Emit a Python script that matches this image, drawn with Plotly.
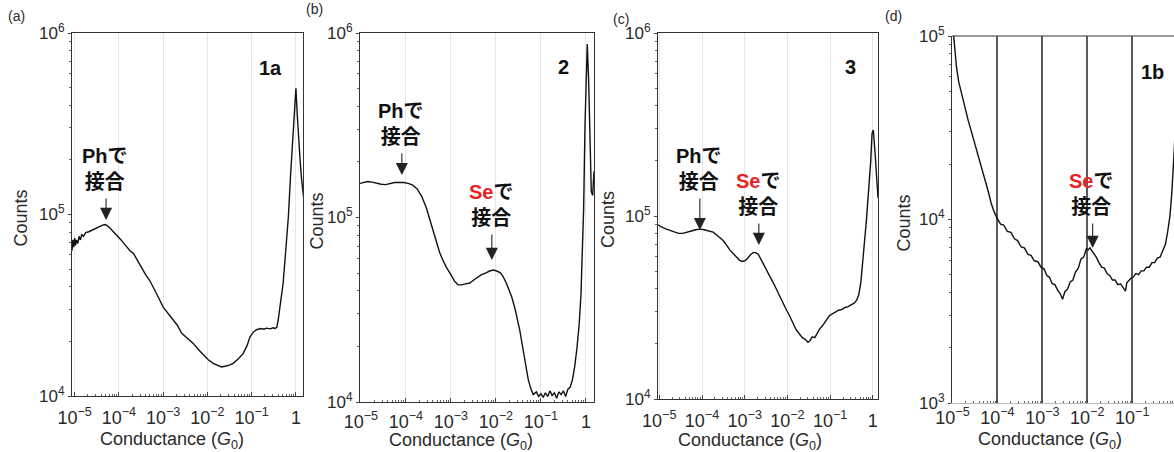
import numpy as np
import plotly.graph_objects as go

# ---------------- data (log10 conductance / log10 counts) ----------------
# Panel (a) molecule 1a
log_g_a = [-5.06, -5.04, -5.02, -5.00, -4.98, -4.96, -4.93, -4.90, -4.87, -4.84, -4.80, -4.75,
           -4.68, -4.60, -4.52, -4.45, -4.38, -4.32, -4.27, -4.22, -4.16, -4.10, -4.05, -3.95,
           -3.85, -3.75, -3.67, -3.58, -3.48, -3.40, -3.30, -3.20, -3.10, -3.00, -2.90, -2.77,
           -2.68, -2.58, -2.46, -2.32, -2.20, -2.09, -1.98, -1.87, -1.78, -1.68, -1.58, -1.50,
           -1.42, -1.30, -1.19, -1.10, -1.04, -0.97, -0.89, -0.80, -0.72, -0.66, -0.58, -0.52,
           -0.47, -0.43, -0.40, -0.35, -0.29, -0.23, -0.17, -0.12, -0.07, -0.03, 0.00, 0.03,
           0.06, 0.10, 0.13, 0.17]
log_counts_a = [4.80, 4.86, 4.82, 4.87, 4.83, 4.86, 4.84, 4.88, 4.86, 4.89, 4.88, 4.90,
                4.905, 4.915, 4.925, 4.935, 4.94, 4.945, 4.94, 4.93, 4.915, 4.895, 4.885, 4.86,
                4.83, 4.80, 4.785, 4.745, 4.70, 4.67, 4.635, 4.59, 4.54, 4.49, 4.46, 4.42,
                4.39, 4.345, 4.32, 4.29, 4.255, 4.225, 4.20, 4.18, 4.17, 4.16, 4.165, 4.17,
                4.18, 4.205, 4.235, 4.28, 4.325, 4.35, 4.365, 4.372, 4.368, 4.374, 4.37, 4.376,
                4.372, 4.38, 4.42, 4.50, 4.62, 4.80, 4.99, 5.22, 5.45, 5.60, 5.695, 5.55,
                5.42, 5.28, 5.19, 5.10]

# Panel (b) molecule 2
log_g_b = [-5.02, -4.95, -4.85, -4.75, -4.65, -4.55, -4.45, -4.35, -4.25, -4.15, -4.05, -3.95,
           -3.85, -3.75, -3.65, -3.55, -3.47, -3.40, -3.32, -3.25, -3.18, -3.10, -3.00, -2.92,
           -2.84, -2.76, -2.68, -2.58, -2.50, -2.40, -2.32, -2.22, -2.14, -2.06, -1.98, -1.90,
           -1.84, -1.76, -1.70, -1.65, -1.58, -1.52, -1.47, -1.40, -1.34, -1.28, -1.22, -1.17,
           -1.10, -1.05, -1.00, -0.95, -0.90, -0.85, -0.80, -0.75, -0.70, -0.65, -0.60, -0.55,
           -0.50, -0.45, -0.40, -0.35, -0.30, -0.25, -0.20, -0.15, -0.11, -0.08, -0.05, -0.02,
           0.01, 0.03, 0.06, 0.09, 0.12, 0.15, 0.18]
log_counts_b = [5.185, 5.19, 5.195, 5.192, 5.185, 5.18, 5.178, 5.185, 5.19, 5.19, 5.19, 5.185,
                5.175, 5.155, 5.115, 5.055, 4.99, 4.93, 4.86, 4.81, 4.77, 4.73, 4.69, 4.655,
                4.635, 4.635, 4.64, 4.645, 4.66, 4.675, 4.69, 4.70, 4.71, 4.715, 4.71, 4.70,
                4.68, 4.64, 4.60, 4.57, 4.51, 4.45, 4.39, 4.29, 4.20, 4.12, 4.07, 4.04,
                4.055, 4.03, 4.045, 4.025, 4.05, 4.03, 4.06, 4.035, 4.05, 4.02, 4.055, 4.04,
                4.06, 4.03, 4.07, 4.08, 4.12, 4.19, 4.29, 4.42, 4.58, 4.78, 5.05, 5.50,
                5.80, 5.94, 5.75, 5.40, 5.14, 5.12, 5.25]

# Panel (c) molecule 3
log_g_c = [-5.03, -4.95, -4.85, -4.75, -4.65, -4.55, -4.45, -4.35, -4.25, -4.15, -4.05, -3.95,
           -3.85, -3.74, -3.65, -3.57, -3.50, -3.42, -3.35, -3.27, -3.20, -3.12, -3.05, -2.98,
           -2.92, -2.86, -2.80, -2.74, -2.68, -2.62, -2.55, -2.48, -2.40, -2.32, -2.25, -2.18,
           -2.10, -2.02, -1.95, -1.88, -1.80, -1.72, -1.65, -1.58, -1.52, -1.47, -1.42, -1.36,
           -1.30, -1.24, -1.18, -1.10, -1.02, -0.95, -0.88, -0.80, -0.72, -0.65, -0.58, -0.50,
           -0.43, -0.38, -0.33, -0.28, -0.24, -0.20, -0.15, -0.10, -0.05, -0.02, 0.01, 0.05,
           0.09, 0.12]
log_counts_c = [4.952, 4.94, 4.93, 4.922, 4.912, 4.905, 4.905, 4.91, 4.918, 4.925, 4.928, 4.925,
                4.92, 4.912, 4.895, 4.88, 4.865, 4.84, 4.815, 4.795, 4.775, 4.758, 4.752, 4.758,
                4.772, 4.79, 4.80, 4.80, 4.79, 4.765, 4.735, 4.70, 4.665, 4.63, 4.595, 4.565,
                4.525, 4.485, 4.455, 4.42, 4.38, 4.355, 4.335, 4.325, 4.31, 4.32, 4.34, 4.335,
                4.36, 4.385, 4.40, 4.425, 4.455, 4.465, 4.475, 4.485, 4.49, 4.50, 4.505, 4.515,
                4.525, 4.54, 4.57, 4.64, 4.73, 4.85, 4.98, 5.12, 5.30, 5.45, 5.47, 5.35,
                5.22, 5.10]

# Panel (d) molecule 1b
log_g_d = [-4.98, -4.94, -4.91, -4.86, -4.80, -4.72, -4.65, -4.58, -4.50, -4.42, -4.36, -4.28,
           -4.20, -4.14, -4.07, -4.00, -3.93, -3.86, -3.78, -3.70, -3.62, -3.55, -3.47, -3.40,
           -3.32, -3.25, -3.18, -3.10, -3.03, -2.96, -2.90, -2.84, -2.78, -2.72, -2.66, -2.60,
           -2.55, -2.50, -2.44, -2.38, -2.32, -2.26, -2.20, -2.14, -2.08, -2.02, -1.98, -1.94,
           -1.90, -1.86, -1.80, -1.74, -1.68, -1.62, -1.56, -1.50, -1.44, -1.38, -1.32, -1.26,
           -1.20, -1.15, -1.12, -1.08, -1.03, -0.98, -0.92, -0.86, -0.80, -0.74, -0.68, -0.62,
           -0.56, -0.50, -0.44, -0.38, -0.32, -0.26, -0.21, -0.16, -0.12, -0.09, -0.06, -0.03]
log_counts_d = [5.02, 4.90, 4.83, 4.75, 4.69, 4.60, 4.54, 4.48, 4.41, 4.35, 4.29, 4.22,
                4.15, 4.09, 4.04, 4.005, 3.975, 3.97, 3.935, 3.93, 3.895, 3.885, 3.85, 3.845,
                3.81, 3.805, 3.775, 3.77, 3.74, 3.73, 3.695, 3.685, 3.65, 3.645, 3.615, 3.595,
                3.565, 3.605, 3.62, 3.66, 3.67, 3.715, 3.735, 3.785, 3.795, 3.84, 3.835, 3.845,
                3.83, 3.82, 3.795, 3.765, 3.74, 3.735, 3.705, 3.695, 3.67, 3.67, 3.645, 3.65,
                3.625, 3.61, 3.655, 3.665, 3.68, 3.685, 3.705, 3.70, 3.72, 3.72, 3.74, 3.74,
                3.765, 3.765, 3.79, 3.795, 3.835, 3.865, 3.935, 4.02, 4.14, 4.25, 4.40, 4.60]

# tick labels
x_tick_exponents = [-5, -4, -3, -2, -1, 0]
x_tick_labels = ["10<sup>−5</sup>", "10<sup>−4</sup>", "10<sup>−3</sup>", "10<sup>−2</sup>",
                 "10<sup>−1</sup>", "1"]
y_tick_exponents_abc = [4, 5, 6]
y_tick_labels_abc = ["10<sup>4</sup>", "10<sup>5</sup>", "10<sup>6</sup>"]
y_tick_exponents_d = [3, 4, 5]
y_tick_labels_d = ["10<sup>3</sup>", "10<sup>4</sup>", "10<sup>5</sup>"]

panel_letters = ["(a)", "(b)", "(c)", "(d)"]
panel_names = ["1a", "2", "3", "1b"]

# binding-site labels: (panel index, label kind, arrow tip log G, arrow tip log counts)
site_panel = [0, 1, 1, 2, 2, 3]
site_kind = ["Ph", "Ph", "Se", "Ph", "Se", "Se"]
site_log_g = [-4.29, -4.09, -2.09, -4.05, -2.67, -1.88]
site_log_counts = [4.97, 5.23, 4.77, 4.923, 4.842, 3.845]

# ---------------- layout geometry ----------------
W, H = 1174, 452
# pixel boxes: left, right, top, bottom
boxes = [(72, 303, 33, 396), (360, 594, 33, 402), (658, 878, 33, 399), (952, 1174, 36, 403)]
x_ranges = [[-5.06, 0.16], [-5.02, 0.18], [-5.03, 0.12], [-5.01, -0.07]]
y_ranges = [[4, 6], [4, 6], [4, 6], [3, 5]]
x_label_standoff = [5, 3, 5, -2]

TXT = "#2a2a2a"
FONT = "Liberation Sans, Arial, Helvetica, sans-serif"
JFONT = "Liberation Sans, Noto Sans CJK JP, sans-serif"

xs = [log_g_a, log_g_b, log_g_c, log_g_d]
ys = [log_counts_a, log_counts_b, log_counts_c, log_counts_d]

fig = go.Figure()
annotations = []
shapes = []


def px_to_paper_x(p):
    return p / W


def px_to_paper_y(p):
    return 1 - p / H


for i in range(4):
    sfx = "" if i == 0 else str(i + 1)
    fig.add_trace(go.Scatter(
        x=10 ** np.array(xs[i]), y=10 ** np.array(ys[i]), mode="lines",
        line=dict(color="#111111", width=1.4), showlegend=False, hoverinfo="skip",
        xaxis="x" + sfx, yaxis="y" + sfx))

    l, r, t, b = boxes[i]
    is_d = i == 3
    minor_x = [m * 10 ** e for e in range(-6, 1) for m in range(2, 10)]
    ylo, yhi = y_ranges[i]
    minor_y = [m * 10 ** e for e in range(ylo, yhi) for m in range(2, 10)]
    xa = dict(
        type="log", range=x_ranges[i], domain=[px_to_paper_x(l), px_to_paper_x(r)],
        anchor="y" + sfx, tickmode="array", automargin=False,
        tickvals=[10 ** e for e in x_tick_exponents], ticktext=x_tick_labels,
        ticks="inside", ticklen=4, tickcolor="#444", tickwidth=1,
        ticklabelstandoff=x_label_standoff[i],
        minor=dict(tickmode="array", tickvals=minor_x, ticks="inside", ticklen=2,
                   tickcolor="#666", showgrid=False),
        showgrid=True,
        gridcolor="#5a5a5a" if is_d else "#e6e6e6",
        gridwidth=2 if is_d else 1,
        showline=True, linecolor="#bbbbbb" if is_d else "#333333", linewidth=1.2,
        mirror=not is_d, zeroline=False,
        tickfont=dict(family=FONT, size=18, color=TXT),
        fixedrange=True,
    )
    ya = dict(
        type="log", range=y_ranges[i], domain=[px_to_paper_y(b), px_to_paper_y(t)],
        anchor="x" + sfx, tickmode="array", automargin=False,
        tickvals=[10 ** e for e in (y_tick_exponents_d if is_d else y_tick_exponents_abc)],
        ticktext=y_tick_labels_d if is_d else y_tick_labels_abc,
        ticks="outside", ticklen=3, tickcolor="#444",
        minor=dict(tickmode="array", tickvals=minor_y, ticks="outside", ticklen=2,
                   tickcolor="#666", showgrid=False),
        showgrid=False, showline=True, linecolor="#333333", linewidth=1.2,
        mirror=not is_d, zeroline=False,
        tickfont=dict(family=FONT, size=17, color=TXT),
        fixedrange=True,
    )
    fig.layout["xaxis" + sfx] = xa
    fig.layout["yaxis" + sfx] = ya

    if is_d:
        shapes.append(dict(type="line", xref="x4 domain", yref="y4 domain",
                           x0=0, x1=1, y0=1, y1=1, line=dict(color="#333333", width=1.2)))

    # axis titles
    annotations.append(dict(
        text="Counts", textangle=-90, xref="paper", yref="paper",
        x=px_to_paper_x([20, 317, 608, 903][i]), y=px_to_paper_y((t + b) / 2 + 4),
        showarrow=False, font=dict(family=FONT, size=18, color=TXT),
        xanchor="center", yanchor="middle"))
    annotations.append(dict(
        text="Conductance (<i>G</i><sub>0</sub>)", xref="paper", yref="paper",
        x=px_to_paper_x([172, 461, 750, 1050][i]), y=px_to_paper_y([440, 441, 441, 440][i]),
        showarrow=False, font=dict(family=FONT, size=18, color=TXT),
        xanchor="center", yanchor="middle"))
    # panel letters
    annotations.append(dict(
        text=panel_letters[i], xref="paper", yref="paper",
        x=px_to_paper_x([16, 314, 621, 893][i]), y=px_to_paper_y([16, 9, 19, 16][i]),
        showarrow=False, font=dict(family=FONT, size=14, color=TXT),
        xanchor="center", yanchor="middle"))
    # molecule name
    annotations.append(dict(
        text="<b>%s</b>" % panel_names[i], xref="paper", yref="paper",
        x=px_to_paper_x([270, 563, 850, 1152][i]), y=px_to_paper_y([68, 67, 67, 72][i]),
        showarrow=False, font=dict(family=FONT, size=20, color="#111"),
        xanchor="center", yanchor="middle"))

# binding-site arrows and texts
arrow_len = [23, 23, 27, 33, 23, 26]
for k in range(len(site_panel)):
    i = site_panel[k]
    sfx = "" if i == 0 else str(i + 1)
    annotations.append(dict(
        x=site_log_g[k], y=site_log_counts[k], xref="x" + sfx, yref="y" + sfx,
        ax=0, ay=-arrow_len[k], showarrow=True, arrowhead=2, arrowsize=2.2,
        arrowwidth=1.1, arrowcolor="#222", text="", standoff=0))
    if site_kind[k] == "Se":
        head = "<b><span style='color:#e8231f'>Se</span>で</b>"
    else:
        head = "<b>Phで</b>"
    annotations.append(dict(
        x=site_log_g[k] - 0.03, y=site_log_counts[k], xref="x" + sfx, yref="y" + sfx,
        showarrow=False, text=head + "<br><b>接合</b>",
        font=dict(family=JFONT, size=20, color="#111"),
        xanchor="center", yanchor="bottom", yshift=arrow_len[k] + 2))

fig.update_layout(
    template="none",
    width=W, height=H, margin=dict(l=0, r=0, t=0, b=0, pad=0), autosize=False,
    paper_bgcolor="white", plot_bgcolor="white",
    annotations=annotations, shapes=shapes, showlegend=False,
)

fig.write_html("out.html", config={"displayModeBar": False},
               post_script="document.body.style.margin='0';"
                           "document.body.style.overflow='hidden';")
